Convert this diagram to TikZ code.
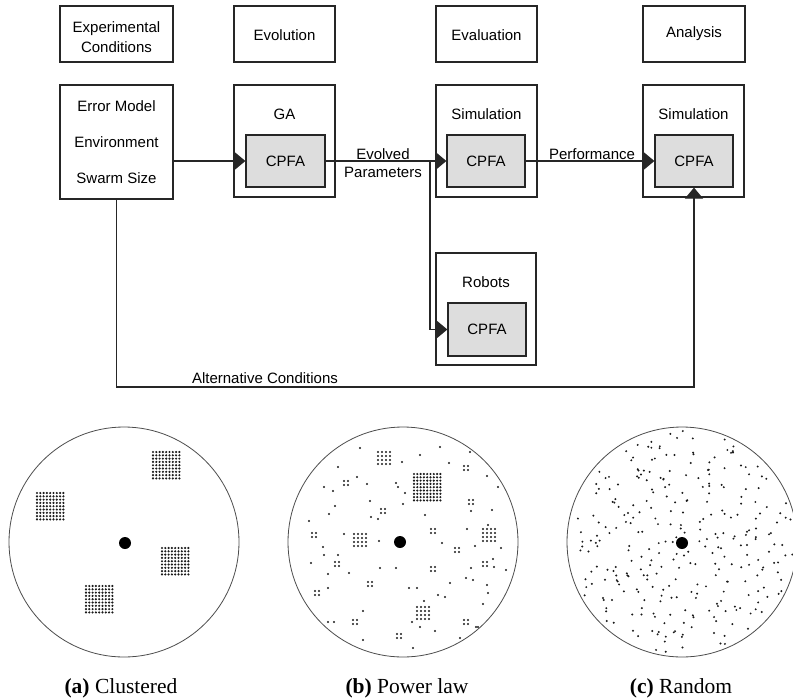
\documentclass[tikz,border=0pt]{standalone}
\usepackage{fontspec}
\setmainfont{Liberation Sans}
\newfontfamily\capfont{Liberation Serif}
\usetikzlibrary{arrows.meta,calc}
\definecolor{lc}{HTML}{262626}
\definecolor{cf}{HTML}{DDDDDD}
\definecolor{dc}{HTML}{1A1A1A}
\newcommand\fs{\fontsize{15}{18}\selectfont}
\newcommand\dgrid[4]{% x y n spacing
  \pgfmathtruncatemacro\dgn{#3-1}%
  \foreach \i in {0,...,\dgn}{\foreach \j in {0,...,\dgn}{\fill[dc] ($(#1pt,-#2pt)+(\i*#4pt,-\j*#4pt)$) circle (1.2pt);}}}
\newcommand\dfour[2]{% 2x2 cluster centre
  \foreach \i in {-2,2}{\foreach \j in {-2,2}{\fill[dc] (#1+\i,#2+\j) circle (1.1pt);}}}
\begin{document}
\begin{tikzpicture}[x=1pt,y=-1pt,
  box/.style={draw=lc,line width=1.2pt,inner sep=0pt,font=\fs,align=center,text=black},
  cpfa/.style={box,fill=cf,minimum width=78pt,minimum height=52pt},
  lbl/.style={inner sep=0pt,font=\fs,text=black,align=center},
  arr/.style={draw=lc,line width=1.2pt,-{Triangle[length=11pt,width=18pt]}},
  captxt/.style={inner sep=0pt,font=\capfont\fontsize{21.5}{24}\selectfont,anchor=base},
  ring/.style={draw=black!70,line width=0.8pt}]
\useasboundingbox (0,0) rectangle (793,699);
% top row
\node[box,minimum width=113pt,minimum height=56pt] (expc) at (116.5,34) {};
\node[lbl,font=\fontsize{15}{19.5}\selectfont] (expct) at (116.5,37) {Experimental\\Conditions};
\node[box,minimum width=101pt,minimum height=56pt] (evol) at (284.5,34) {};
\node[lbl] (evolt) at (284.5,35) {Evolution};
\node[box,minimum width=101pt,minimum height=56pt] (evalu) at (486.5,34) {};
\node[lbl] (evalut) at (486.5,35) {Evaluation};
\node[box,minimum width=102pt,minimum height=56pt] (anal) at (694,34) {};
\node[lbl] (analt) at (694,33.5) {Analysis};
% second row
\node[box,minimum width=113pt,minimum height=114pt,font=\fontsize{15}{36}\selectfont] (err) at (116.5,142) {Error Model\\Environment\\Swarm Size};
\node[box,minimum width=101pt,minimum height=112pt] (ga) at (284.5,141) {};
\node[box,minimum width=101pt,minimum height=112pt] (sim) at (486.5,141) {};
\node[box,minimum width=101pt,minimum height=112pt] (asim) at (693.5,141) {};
\node[box,minimum width=100pt,minimum height=112pt] (rob) at (486,309) {};
\node[lbl] (galbl) at (284.5,114.5) {GA};
\node[lbl] (simlbl) at (486.5,114.5) {Simulation};
\node[lbl] (asimlbl) at (693.5,114.5) {Simulation};
\node[lbl] (roblbl) at (486,282.5) {Robots};
\node[cpfa,minimum width=79pt] (c1) at (285.5,161) {CPFA};
\node[cpfa] (c2) at (486,161) {CPFA};
\node[cpfa] (c3) at (694,161) {CPFA};
\node[cpfa,minimum height=53pt] (c4) at (487,329.5) {CPFA};
% connectors
\coordinate (br) at (430,161);
\coordinate (altc) at (116.5,387);
\draw[arr] (err.east |- c1.west) -- (c1.west);
\draw[arr] (c1.east) -- (c2.west);
\draw[arr] (br) |- (c4.west);
\draw[arr] (c2.east) -- (c3.west);
\draw[arr] (err.south) -- (altc) -| (c3.south);
\node[lbl] (evp) at (383,163) {Evolved\\Parameters};
\node[lbl] (perf) at (592,154) {Performance};
\node[lbl] (altl) at (265,378) {Alternative Conditions};
% ---- (a) clustered
\draw[ring] (124,542) circle (115pt);
\fill[black] (125,543) circle (6pt);
\dgrid{153}{452}{9}{3.3}
\dgrid{37}{493}{9}{3.3}
\dgrid{162}{548}{9}{3.3}
\dgrid{86}{586}{9}{3.3}
\node[captxt] (capa) at (121,693) {\textbf{(a)} Clustered};
% ---- (b) power law
\draw[ring] (403,542) circle (115pt);
\fill[black] (400,542) circle (6pt);
\dgrid{414}{474}{9}{3.3}
\dgrid{354}{534}{4}{4}
\dgrid{378}{452}{4}{4}
\dgrid{483}{529}{4}{4}
\dgrid{417}{607}{4}{4}
\foreach \p/\q in {346/483,383/511,314/535,337/564,370/584,317/593,355/622,399/636,433/531,457/550,433/569,466/468,471/502,485/564,466/622}{\dfour{\p}{\q}}
\foreach \p/\q in {338/467,357/477,324/487,333/491,367/484,396/483,398/487,405/493,370/501,335/506,329/514,309/521,371/517,378/519,403/504,425/515,344/534,379/541,323/547,324/555,338/555,311/563,349/573,328/574,380/568,396/568,328/588,442/543,409/588,417/588,424/601,438/595,445/597,450/583,363/611,328/622,334/622,363/640,412/622,420/627,413/648,435/631,449/463,402/462,460/638,476/627,483/604,488/593,498/487,487/476,467/529,475/546,471/511,492/510,488/525,501/548,493/559,494/567,506/570,471/568,466/578,473/580,487/585,478/627,360/448,420/455,440/447,470/452}{\fill[dc] (\p,\q) circle (1.1pt);}
\node[captxt] (capb) at (407,693) {\textbf{(b)} Power law};
% ---- (c) random (jittered spiral for an even scatter)
\draw[ring] (682,542) circle (115pt);
\fill[black] (682,543) circle (6pt);
\pgfmathsetseed{1987}
\foreach \k in {1,...,300}{%
  \pgfmathsetmacro\myrad{abs(min(111,110*sqrt((\k-0.5)/300)+8*rand))}%
  \pgfmathsetmacro\myang{360*mod(\k*0.381966,1)+25*rand}%
  \fill[dc] ($(682pt,-542pt)+(\myang:\myrad pt)$) circle (1.1pt);}
\node[captxt] (capc) at (681,693) {\textbf{(c)} Random};
\end{tikzpicture}
\end{document}
